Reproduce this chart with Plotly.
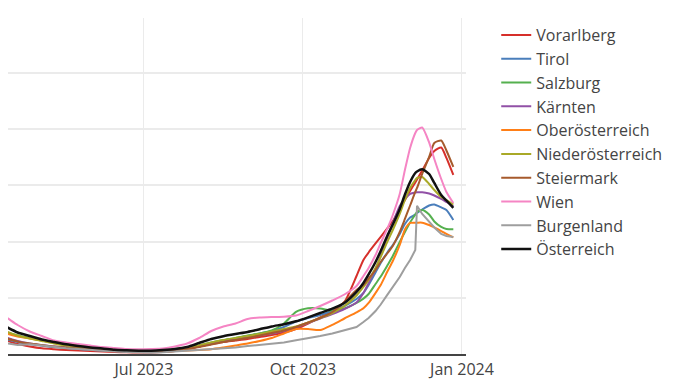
import plotly.graph_objects as go

dates = [
    "2023-04-05", "2023-04-12", "2023-04-19", "2023-04-26", "2023-05-03", "2023-05-10",
    "2023-05-17", "2023-05-24", "2023-05-31", "2023-06-07", "2023-06-14", "2023-06-21",
    "2023-06-28", "2023-07-05", "2023-07-12", "2023-07-19", "2023-07-26", "2023-08-02",
    "2023-08-09", "2023-08-16", "2023-08-23", "2023-08-30", "2023-09-06", "2023-09-13",
    "2023-09-20", "2023-09-27", "2023-10-04", "2023-10-11", "2023-10-18", "2023-10-25",
    "2023-11-01", "2023-11-05", "2023-11-08", "2023-11-12", "2023-11-15", "2023-11-19",
    "2023-11-22", "2023-11-26", "2023-11-29", "2023-12-02", "2023-12-05", "2023-12-06",
    "2023-12-09", "2023-12-13", "2023-12-16", "2023-12-20", "2023-12-23", "2023-12-27",
]

vorarlberg = [37.4, 24.9, 17.8, 13.4, 10.1, 8.4, 7.1, 6.2, 5.3, 4.5, 3.6, 3.0, 2.7, 2.7, 3.6, 5.3,
              8.9, 13.4, 17.8, 21.4, 24.0, 26.7, 30.3, 33.8, 38.3, 44.5, 54.3, 65.0, 76.5, 92.6,
              138.8, 167.3, 180.7, 196.7, 208.3, 224.3, 236.7, 258.1, 274.1, 290.1, 305.3, 310.6,
              326.6, 348.9, 361.3, 367.6, 348.9, 318.6]
tirol = [37.4, 26.7, 21.4, 17.8, 15.1, 12.5, 10.7, 8.9, 7.5, 6.2, 5.3, 4.5, 3.9, 3.9, 4.8, 6.2,
         8.9, 13.4, 18.7, 23.1, 27.6, 32.0, 36.5, 40.9, 48.1, 57.9, 64.1, 69.4, 76.5, 85.4,
         97.9, 108.6, 122.8, 145.1, 162.0, 181.6, 194.0, 213.6, 231.4, 243.0, 248.3, 251.0,
         257.2, 264.3, 266.1, 260.8, 256.3, 238.5]
salzburg = [49.8, 39.2, 32.9, 28.5, 24.0, 20.5, 17.3, 14.6, 12.1, 10.1, 8.0, 6.2, 5.3, 5.3, 6.6, 8.9,
            11.6, 15.1, 20.5, 24.9, 28.5, 32.9, 36.5, 41.8, 54.3, 74.8, 81.3, 81.0, 76.5, 81.0,
            91.1, 98.6, 106.8, 124.6, 137.8, 158.4, 174.4, 199.4, 217.2, 234.1, 248.3, 252.8,
            256.3, 248.3, 235.9, 226.1, 222.5, 222.0]
kaernten = [42.7, 30.3, 23.1, 18.7, 15.7, 13.4, 11.6, 9.8, 8.4, 7.1, 5.9, 5.0, 4.5, 4.5, 5.3, 7.1,
            9.8, 13.4, 17.8, 22.3, 25.8, 29.4, 32.9, 36.5, 40.9, 47.2, 55.2, 63.2, 71.2, 80.1,
            91.7, 108.6, 126.4, 151.3, 174.4, 208.3, 233.2, 263.4, 275.9, 284.8, 287.5, 287.8,
            288.0, 285.7, 282.1, 275.9, 270.6, 263.4]
oberoesterreich = [48.1, 37.4, 31.2, 27.6, 24.0, 20.5, 17.8, 15.1, 12.5, 10.1, 8.4, 6.8, 5.3, 4.5, 4.5,
                   5.3, 6.2, 7.1, 8.5, 11.6, 15.1, 18.7, 23.1, 28.5, 36.5, 44.5, 44.5, 42.7, 52.0,
                   63.2, 74.2, 81.5, 90.8, 108.6, 122.8, 147.7, 165.5, 194.0, 221.6, 233.2, 233.7,
                   233.7, 233.7, 229.6, 225.2, 218.9, 213.6, 207.4]
niederoesterreich = [51.6, 40.9, 32.9, 27.6, 23.1, 18.7, 15.1, 12.5, 10.1, 8.4, 6.6, 5.7, 4.8, 4.8, 5.3,
                     7.1, 9.8, 15.1, 20.5, 24.9, 28.5, 32.0, 35.6, 40.1, 44.5, 49.0, 56.1, 64.1, 73.0,
                     85.4, 104.1, 119.3, 131.7, 153.1, 172.7, 201.1, 220.7, 249.2, 274.1, 295.5,
                     309.7, 313.3, 315.1, 302.6, 291.9, 279.5, 274.1, 266.1]
steiermark = [39.2, 28.5, 22.3, 18.7, 16.0, 13.4, 11.6, 9.8, 8.0, 6.6, 5.3, 4.5, 3.6, 3.6, 4.5, 6.2,
              8.9, 12.5, 16.9, 21.4, 24.9, 28.5, 32.9, 37.4, 41.8, 48.1, 56.1, 64.1, 74.8, 92.6,
              113.9, 122.8, 134.2, 149.5, 163.8, 179.8, 192.2, 217.2, 240.3, 264.3, 288.4, 295.5,
              320.4, 350.7, 375.6, 380.0, 362.2, 332.9]
wien = [78.3, 65.9, 51.6, 40.1, 32.0, 24.0, 20.5, 17.8, 15.1, 12.5, 10.7, 8.9, 8.4, 8.9, 9.8, 13.4,
        18.7, 28.5, 40.9, 49.0, 54.3, 62.3, 65.0, 65.9, 66.4, 68.5, 76.5, 85.4, 95.2, 105.9,
        121.0, 138.8, 153.1, 176.2, 197.6, 224.3, 247.4, 284.8, 327.5, 366.7, 393.4, 398.7,
        403.2, 376.5, 347.1, 311.5, 288.4, 268.8]
burgenland = [30.3, 19.6, 16.0, 17.4, 15.1, 12.5, 10.3, 8.9, 7.1, 5.3, 4.5, 3.6, 2.7, 2.3, 3.2, 4.5,
              5.3, 7.1, 8.4, 9.8, 11.6, 14.2, 16.0, 18.2, 20.5, 24.4, 27.6, 32.0, 36.5, 41.8,
              48.1, 57.0, 64.1, 76.5, 88.1, 106.1, 119.1, 137.1, 153.1, 167.3, 185.1, 264.0,
              249.2, 235.0, 225.2, 213.6, 210.0, 208.3]
oesterreich = [60.5, 49.0, 38.3, 32.0, 25.8, 21.4, 17.3, 14.2, 11.6, 9.8, 7.5, 6.6, 5.9, 5.9, 7.1, 8.9,
               12.5, 19.6, 26.7, 31.7, 35.6, 39.2, 44.0, 49.1, 52.9, 58.2, 65.3, 73.0, 80.6, 90.8,
               110.4, 126.4, 141.5, 163.8, 183.3, 211.8, 230.5, 258.1, 283.9, 306.2, 322.2, 324.9,
               328.8, 320.4, 304.4, 283.0, 273.2, 259.9]

series_names = ["Vorarlberg", "Tirol", "Salzburg", "Kärnten", "Oberösterreich",
                "Niederösterreich", "Steiermark", "Wien", "Burgenland", "Österreich"]
series_values = [vorarlberg, tirol, salzburg, kaernten, oberoesterreich,
                 niederoesterreich, steiermark, wien, burgenland, oesterreich]
colors = ["#d62f2a", "#4a7ebb", "#55b04f", "#9150a6", "#ff7f17",
          "#a9a927", "#a65a2c", "#f585c4", "#9e9e9e", "#111111"]
widths = [2, 2, 2, 2, 2, 2, 2, 2, 2, 2.5]

x_range = ["2023-04-13 10:00", "2024-01-03 08:00"]
tick_vals = ["2023-04-01", "2023-07-01", "2023-10-01", "2024-01-01"]
tick_text = ["Apr 2023", "Jul 2023", "Oct 2023", "Jan 2024"]

fig = go.Figure()
for name, vals, col, w in zip(series_names, series_values, colors, widths):
    fig.add_trace(go.Scatter(
        x=dates, y=vals, name=name, mode="lines",
        line=dict(color=col, width=w,
                  shape="linear" if name == "Burgenland" else "spline",
                  smoothing=0.6),
    ))

fig.update_layout(
    width=682, height=388,
    margin=dict(l=0, r=224, t=10, b=42),
    paper_bgcolor="white", plot_bgcolor="white",
    font=dict(family="Open Sans, sans-serif", size=16, color="#444"),
    legend=dict(x=1.066, y=1.0, xanchor="left", yanchor="top",
                font=dict(size=16, color="#444"), tracegroupgap=0),
    showlegend=True,
)
fig.update_xaxes(
    range=x_range, tickvals=tick_vals, ticktext=tick_text,
    showgrid=True, gridcolor="#ebebeb", gridwidth=1,
    showline=True, linecolor="#444", linewidth=2,
    zeroline=False, tickfont=dict(size=16, color="#444"),
)
fig.update_yaxes(
    range=[0, 598], dtick=100, showticklabels=False,
    showgrid=True, gridcolor="#ebebeb", gridwidth=2, zeroline=False,
)

fig.write_html("out.html")
